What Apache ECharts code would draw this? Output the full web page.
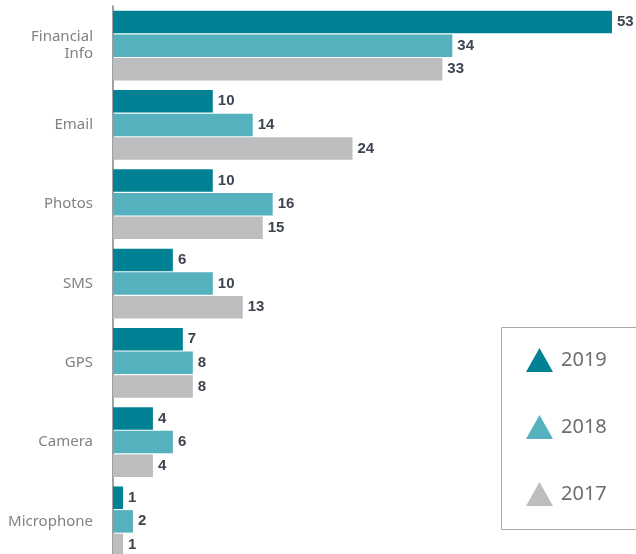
<!DOCTYPE html>
<html>
<head>
<meta charset="utf-8">
<script src="https://cdn.jsdelivr.net/npm/echarts@6/dist/echarts.min.js"></script>
<style>
  html, body { margin: 0; padding: 0; background: #fff; }
  #main { width: 636px; height: 554px; }
</style>
</head>
<body>
<div id="main"></div>
<script>
// 数据
var categories = ['Financial\nInfo', 'Email', 'Photos', 'SMS', 'GPS', 'Camera', 'Microphone'];
var years = ['2019', '2018', '2017'];
var data2019 = [53, 10, 10, 6, 7, 4, 1];
var data2018 = [34, 14, 16, 10, 8, 6, 2];
var data2017 = [33, 24, 15, 13, 8, 4, 1];
var colors = ['#008294', '#55b1bd', '#bcbdbf'];

var myChart = echarts.init(document.getElementById('main'));

function makeSeries(name, values, color) {
  return {
    name: name,
    type: 'bar',
    data: values,
    barWidth: 22.5,
    barGap: '5%',
    itemStyle: { color: color },
    label: {
      show: true,
      position: 'right',
      distance: 5,
      color: '#3f4451',
      fontFamily: 'Liberation Sans',
      fontWeight: 'bold',
      fontSize: 15
    }
  };
}

var option = {
  animation: false,
  grid: { left: 113, right: 24, top: 6, height: 555, outerBoundsMode: 'none' },
  // 图例边框（右侧超出画布）
  graphic: [{
    type: 'rect',
    shape: { x: 501.5, y: 327.5, width: 200, height: 202 },
    style: { fill: 'none', stroke: '#a7a9ac', lineWidth: 1 },
    z: 0
  }],
  legend: {
    data: years.map(function (y) { return { name: y, icon: 'triangle' }; }),
    orient: 'vertical',
    left: 526,
    top: 348,
    itemWidth: 27,
    itemHeight: 24,
    itemGap: 43,
    padding: 0,
    textStyle: { color: '#6d6e71', fontSize: 20, fontFamily: 'Noto Sans', padding: [0, 0, 0, 3] }
  },
  xAxis: {
    type: 'value',
    min: 0,
    max: 50,
    show: false
  },
  yAxis: {
    type: 'category',
    data: categories,
    inverse: true,
    offset: 8,
    axisLine: { lineStyle: { color: '#808285', width: 1.5 } },
    axisTick: { show: false },
    axisLabel: {
      margin: 12,
      color: '#808285',
      fontSize: 15,
      lineHeight: 17,
      fontFamily: 'Noto Sans'
    }
  },
  series: [
    makeSeries(years[0], data2019, colors[0]),
    makeSeries(years[1], data2018, colors[1]),
    makeSeries(years[2], data2017, colors[2])
  ]
};

myChart.setOption(option);
</script>
</body>
</html>
